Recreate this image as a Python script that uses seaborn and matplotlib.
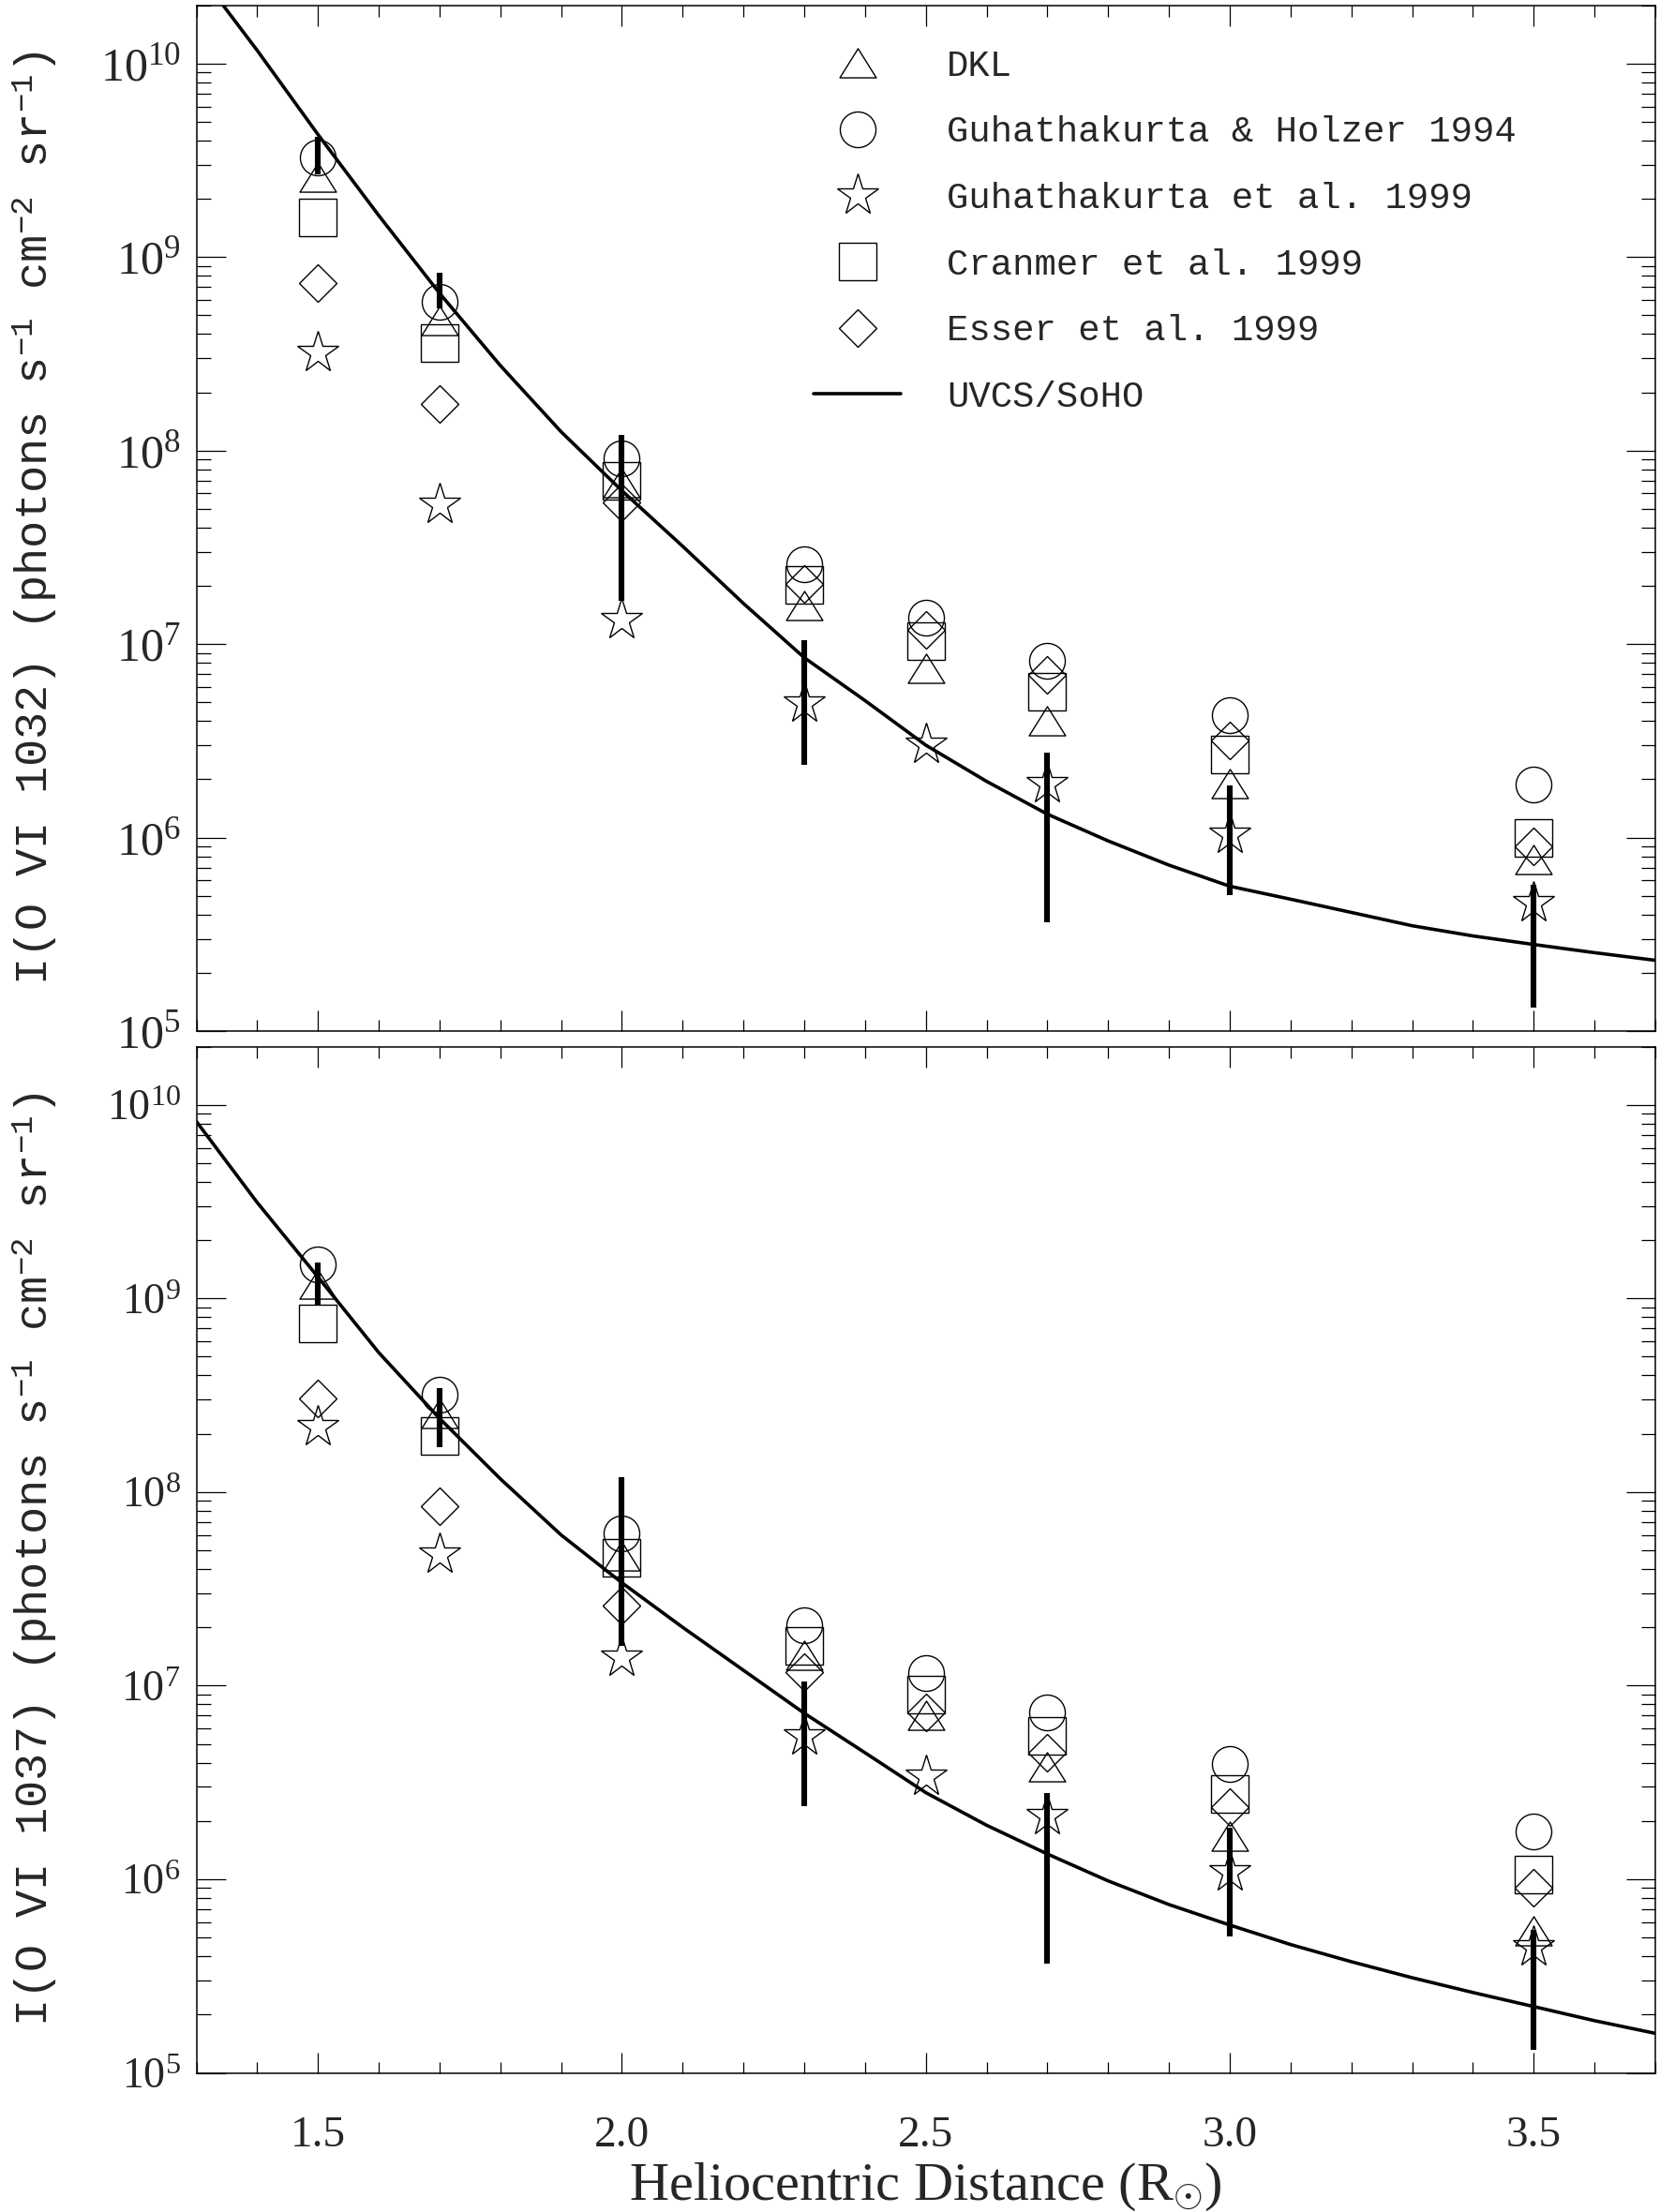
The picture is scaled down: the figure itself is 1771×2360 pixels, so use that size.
import matplotlib
matplotlib.use("Agg")
import numpy as np
import matplotlib.pyplot as plt
from matplotlib.path import Path
from matplotlib.ticker import LogLocator, MultipleLocator, NullFormatter, FormatStrFormatter
import seaborn as sns

sns.set_style("ticks")
plt.rcParams["font.family"] = ["Liberation Serif", "DejaVu Serif"]
plt.rcParams["mathtext.fontset"] = "custom"
plt.rcParams["mathtext.rm"] = "Liberation Serif"
plt.rcParams["mathtext.it"] = "Liberation Serif:italic"
plt.rcParams["mathtext.bf"] = "Liberation Serif:bold"

# ---------- DATA ----------
radius = [1.5, 1.7, 2.0, 2.3, 2.5, 2.7, 3.0, 3.5]
model_names = ["DKL", "Guhathakurta & Holzer 1994", "Guhathakurta et al. 1999",
               "Cranmer et al. 1999", "Esser et al. 1999"]

# O VI 1032
dkl_1032 = [2.58e9, 4.7e8, 6.8e7, 1.58e7, 7.5e6, 4.0e6, 1.91e6, 7.7e5]
gh94_1032 = [3.26e9, 5.9e8, 9.1e7, 2.57e7, 1.37e7, 8.2e6, 4.3e6, 1.87e6]
g99_1032 = [3.23e8, 5.3e7, 1.34e7, 4.97e6, 3.04e6, 1.9e6, 1.04e6, 4.6e5]
cranmer_1032 = [1.6e9, 3.6e8, 7.0e7, 2.02e7, 1.03e7, 5.7e6, 2.7e6, 1.0e6]
esser_1032 = [7.3e8, 1.75e8, 5.4e7, 2.05e7, 1.19e7, 6.9e6, 3.16e6, 9.0e5]

# O VI 1037
dkl_1037 = [1.18e9, 2.55e8, 4.7e7, 1.44e7, 7.0e6, 3.8e6, 1.67e6, 5.4e5]
gh94_1037 = [1.49e9, 3.19e8, 6.1e7, 2.04e7, 1.16e7, 7.25e6, 3.96e6, 1.77e6]
g99_1037 = [2.17e8, 4.8e7, 1.4e7, 5.5e6, 3.4e6, 2.14e6, 1.09e6, 4.5e5]
cranmer_1037 = [7.4e8, 1.95e8, 4.6e7, 1.6e7, 9.0e6, 5.5e6, 2.76e6, 1.06e6]
esser_1037 = [3.03e8, 8.4e7, 2.6e7, 1.18e7, 7.3e6, 4.5e6, 2.37e6, 9.0e5]

# UVCS/SoHO observations (vertical bars)
uvcs_r = [1.5, 1.7, 2.0, 2.3, 2.7, 3.0, 3.5]
uvcs_lo_1032 = [2.69e9, 5.4e8, 1.67e7, 2.38e6, 3.66e5, 5.05e5, 1.32e5]
uvcs_hi_1032 = [4.2e9, 8.3e8, 1.2e8, 1.05e7, 2.76e6, 1.85e6, 5.7e5]
uvcs_lo_1037 = [9.3e8, 1.7e8, 1.6e7, 2.38e6, 3.67e5, 5.05e5, 1.32e5]
uvcs_hi_1037 = [1.53e9, 3.44e8, 1.19e8, 1.05e7, 2.8e6, 1.85e6, 5.5e5]

# UVCS/SoHO curve
curve_r_1032 = [1.344, 1.4, 1.5, 1.6, 1.7, 1.8, 1.9, 2.0, 2.1, 2.2, 2.3, 2.4, 2.5,
                2.6, 2.7, 2.8, 2.9, 3.0, 3.1, 3.2, 3.3, 3.4, 3.5, 3.6, 3.7]
curve_i_1032 = [2.0e10, 1.17e10, 4.3e9, 1.64e9, 6.5e8, 2.75e8, 1.25e8, 6.2e7, 3.2e7,
                1.62e7, 8.5e6, 5.1e6, 3.0e6, 1.95e6, 1.32e6, 9.6e5, 7.2e5, 5.6e5,
                4.8e5, 4.1e5, 3.5e5, 3.1e5, 2.8e5, 2.54e5, 2.32e5]
curve_r_1037 = [1.3, 1.4, 1.5, 1.6, 1.7, 1.8, 1.9, 2.0, 2.1, 2.2, 2.3, 2.4, 2.5,
                2.6, 2.7, 2.8, 2.9, 3.0, 3.1, 3.2, 3.3, 3.4, 3.5, 3.6, 3.7]
curve_i_1037 = [8.2e9, 3.13e9, 1.29e9, 5.25e8, 2.4e8, 1.17e8, 6.0e7, 3.4e7, 2.0e7,
                1.2e7, 7.2e6, 4.5e6, 2.8e6, 1.9e6, 1.35e6, 9.8e5, 7.4e5, 5.8e5,
                4.6e5, 3.75e5, 3.1e5, 2.6e5, 2.2e5, 1.86e5, 1.6e5]

# ---------- STYLE ----------
TRIANGLE = Path([(0, 0.8), (-1, -0.8), (1, -0.8), (0, 0.8)], closed=True)
MARKERS = {
    "DKL": (TRIANGLE, 28),
    "Guhathakurta & Holzer 1994": ("o", 27.4),
    "Guhathakurta et al. 1999": ("*", 33),
    "Cranmer et al. 1999": ("s", 28.4),
    "Esser et al. 1999": ("D", 19.9),
}
MONO = "Liberation Mono"


def draw_panel(ax, models, curve_r, curve_i, lo, hi, ylabel, ylabelsize):
    ax.set_yscale("log")
    for name, vals in zip(model_names, models):
        m, ms = MARKERS[name]
        sns.lineplot(x=radius, y=vals, ax=ax, marker=m, ms=ms, linestyle="",
                     color="black", mfc="none", mec="black", mew=1.0,
                     label=name, legend=False, zorder=3)
    sns.lineplot(x=curve_r, y=curve_i, ax=ax, color="black", lw=2.6,
                 label="UVCS/SoHO", legend=False, zorder=4)
    ax.vlines(uvcs_r, lo, hi, color="black", lw=4.4, zorder=5)

    ax.set_xlim(1.3, 3.7)
    ax.set_ylim(1e5, 2e10)
    ax.xaxis.set_major_locator(MultipleLocator(0.5))
    ax.xaxis.set_minor_locator(MultipleLocator(0.1))
    ax.xaxis.set_major_formatter(FormatStrFormatter("%.1f"))
    ax.yaxis.set_major_locator(LogLocator(base=10, numticks=20))
    ax.yaxis.set_minor_locator(LogLocator(base=10, subs=np.arange(2, 10), numticks=20))
    ax.yaxis.set_minor_formatter(NullFormatter())
    ax.tick_params(which="both", direction="in", top=True, right=True, color="black")
    ax.tick_params(axis="x", which="major", length=15.7, width=0.9, pad=33, labelsize=34)
    ax.tick_params(axis="x", which="minor", length=8.3, width=0.9)
    ax.tick_params(axis="y", which="major", length=22, width=0.9, pad=12,
                   labelsize=ylabelsize)
    ax.tick_params(axis="y", which="minor", length=11, width=0.9)
    for sp in ax.spines.values():
        sp.set_linewidth(1.1)
        sp.set_color("black")
    ax.set_ylabel(ylabel, family=MONO, fontsize=35)
    ax.yaxis.set_label_coords(-0.094, 0.5)
    ax.set_xlabel("")


fig = plt.figure(figsize=(17.71, 23.60), dpi=100)
ax_top = fig.add_axes([0.1183, 0.5339, 0.8789, 0.4637])
ax_bot = fig.add_axes([0.1183, 0.0629, 0.8789, 0.4640])

draw_panel(ax_top, [dkl_1032, gh94_1032, g99_1032, cranmer_1032, esser_1032],
           curve_r_1032, curve_i_1032, uvcs_lo_1032, uvcs_hi_1032,
           r"I(O VI 1032) (photons s$^{\mathdefault{-1}}$ cm$^{\mathdefault{-2}}$ sr$^{\mathdefault{-1}}$)",
           36)
draw_panel(ax_bot, [dkl_1037, gh94_1037, g99_1037, cranmer_1037, esser_1037],
           curve_r_1037, curve_i_1037, uvcs_lo_1037, uvcs_hi_1037,
           r"I(O VI 1037) (photons s$^{\mathdefault{-1}}$ cm$^{\mathdefault{-2}}$ sr$^{\mathdefault{-1}}$)",
           33)

ax_top.tick_params(axis="x", labelbottom=False)
ax_bot.set_xlabel(r"Heliocentric Distance (R$_{\odot}$)", fontsize=42)
ax_bot.xaxis.set_label_coords(0.5, -0.086)

handles, labels = ax_top.get_legend_handles_labels()
ax_top.legend(handles, labels, loc="upper left", bbox_to_anchor=(0.423, 0.957),
              frameon=False, prop={"family": MONO, "size": 28},
              handlelength=2.4, handletextpad=1.25, labelspacing=0.89,
              borderpad=0, borderaxespad=0, numpoints=1)

fig.savefig("out.png", dpi=100, facecolor="white")
